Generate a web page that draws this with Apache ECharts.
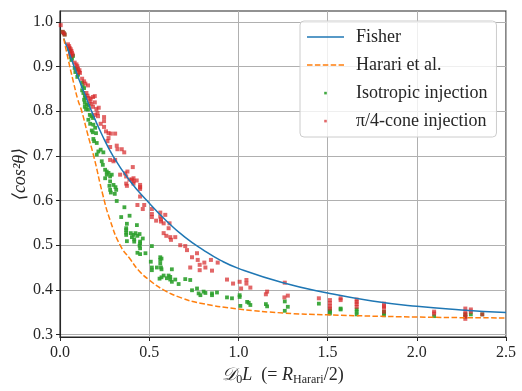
<!DOCTYPE html>
<html>
<head>
<meta charset="utf-8">
<script src="https://cdn.jsdelivr.net/npm/echarts@6/dist/echarts.min.js"></script>
<style>
  html, body { margin: 0; padding: 0; background: #fff; }
  #chart { width: 522px; height: 391px; }
</style>
</head>
<body>
<div id="chart"></div>
<script>
// curves
var fisherPts = [[0.021,0.963],[0.06,0.921],[0.10,0.878],[0.14,0.837],[0.175,0.802],[0.23,0.752],[0.30,0.698],
  [0.39,0.645],[0.487,0.600],[0.60,0.553],[0.70,0.518],[0.80,0.490],[0.90,0.466],[1.0,0.448],[1.25,0.416],
  [1.5,0.393],[1.75,0.375],[2.0,0.363],[2.25,0.355],[2.5,0.349]];
var harariPts = [[0.021,0.963],[0.045,0.918],[0.075,0.866],[0.10,0.826],[0.122,0.80],[0.155,0.749],[0.19,0.698],
  [0.24,0.613],[0.28,0.557],[0.337,0.50],[0.393,0.469],[0.44,0.444],[0.50,0.422],[0.58,0.40],[0.68,0.382],
  [0.787,0.370],[1.0,0.357],[1.255,0.348],[1.5,0.344],[2.0,0.339],[2.5,0.337]];

// isotropic injection (green)
var isoPts = [[0.015,0.978],[0.021,0.975],[0.026,0.972],
  [0.05,0.94],[0.056,0.934],[0.06,0.922],[0.064,0.915],[0.067,0.918],[0.073,0.924],
  [0.082,0.897],[0.086,0.888],[0.092,0.894],[0.097,0.877],[0.101,0.882],
  [0.124,0.864],[0.127,0.856],[0.135,0.852],[0.124,0.847],[0.131,0.841],[0.139,0.835],[0.142,0.830],
  [0.135,0.826],[0.139,0.819],[0.150,0.815],[0.161,0.813],
  [0.139,0.810],[0.146,0.805],[0.157,0.804],[0.167,0.792],[0.176,0.789],[0.185,0.785],
  [0.159,0.781],[0.169,0.772],[0.187,0.770],[0.197,0.763],[0.178,0.757],[0.184,0.753],[0.202,0.751],
  [0.187,0.738],[0.191,0.733],[0.206,0.729],[0.215,0.710],[0.228,0.714],[0.243,0.708],[0.206,0.703],
  [0.234,0.688],[0.240,0.680],[0.253,0.669],[0.262,0.665],[0.272,0.662],[0.262,0.658],[0.253,0.650],
  [0.281,0.654],[0.290,0.658],[0.281,0.643],[0.300,0.635],
  [0.277,0.633],[0.281,0.624],[0.285,0.618],[0.311,0.630],[0.315,0.624],[0.307,0.615],[0.318,0.599],
  [0.343,0.563],[0.361,0.585],[0.375,0.548],[0.371,0.538],[0.371,0.534],[0.371,0.528],[0.371,0.523],
  [0.375,0.509],[0.390,0.566],[0.397,0.527],[0.403,0.518],[0.412,0.523],[0.416,0.513],[0.416,0.508],
  [0.423,0.527],[0.434,0.521],[0.446,0.525],[0.449,0.508],[0.449,0.504],[0.446,0.499],[0.449,0.493],
  [0.434,0.483],[0.449,0.480],[0.464,0.515],[0.479,0.482],[0.431,0.545],[0.515,0.498],[0.509,0.463],
  [0.515,0.450],[0.515,0.444],[0.543,0.450],[0.562,0.473],[0.562,0.467],[0.569,0.470],[0.562,0.459],
  [0.566,0.450],[0.569,0.446],[0.558,0.425],[0.569,0.428],[0.581,0.432],[0.599,0.426],[0.609,0.432],
  [0.618,0.429],[0.627,0.446],[0.618,0.423],[0.627,0.418],[0.646,0.423],[0.665,0.413],[0.702,0.424],
  [0.730,0.422],[0.740,0.399],[0.768,0.403],[0.777,0.392],[0.787,0.388],[0.805,0.396],[0.815,0.393],
  [0.852,0.392],[0.852,0.388],[0.880,0.394],[0.936,0.383],[0.964,0.381],[1.007,0.388],[1.007,0.384],
  [1.011,0.364],[1.049,0.373],[1.058,0.371],[1.067,0.366],
  [1.154,0.368],[1.161,0.363],[1.260,0.374],[1.277,0.362],[1.260,0.353],[1.451,0.369],[1.513,0.354],
  [1.513,0.351],[1.513,0.347],[1.573,0.358],[1.573,0.356],[1.663,0.356],[1.663,0.351],[1.663,0.345],
  [1.816,0.351],[1.816,0.347],[1.816,0.343],[2.097,0.341],[2.272,0.345],[2.272,0.340],[2.303,0.345],[2.367,0.345]];

// pi/4-cone injection (red)
var conePts = [[0.004,0.993],[0.015,0.978],[0.021,0.975],[0.026,0.972],
  [0.045,0.950],[0.051,0.946],[0.054,0.942],[0.060,0.939],[0.064,0.935],[0.067,0.931],[0.056,0.929],
  [0.064,0.924],[0.071,0.927],[0.082,0.909],[0.092,0.905],[0.097,0.901],[0.101,0.895],[0.109,0.892],
  [0.112,0.886],[0.105,0.888],[0.124,0.873],[0.135,0.867],[0.142,0.862],[0.157,0.858],
  [0.148,0.841],[0.154,0.835],[0.161,0.830],[0.172,0.828],[0.185,0.832],[0.195,0.834],
  [0.167,0.822],[0.176,0.817],[0.195,0.820],[0.185,0.810],[0.204,0.805],[0.217,0.808],[0.210,0.796],
  [0.213,0.789],[0.247,0.787],[0.195,0.792],
  [0.247,0.778],[0.228,0.772],[0.247,0.765],[0.258,0.755],[0.272,0.751],[0.285,0.750],[0.309,0.750],
  [0.272,0.740],[0.266,0.733],[0.281,0.720],[0.318,0.723],[0.322,0.715],[0.346,0.715],[0.360,0.708],
  [0.281,0.691],[0.309,0.691],[0.300,0.688],[0.337,0.658],[0.365,0.661],[0.371,0.654],[0.378,0.665],
  [0.408,0.675],[0.389,0.647],[0.403,0.647],[0.412,0.650],[0.43,0.645],
  [0.371,0.638],[0.375,0.633],[0.412,0.643],[0.412,0.638],[0.449,0.635],[0.449,0.630],[0.449,0.626],
  [0.449,0.609],[0.434,0.590],[0.472,0.590],[0.464,0.581],[0.515,0.581],[0.515,0.570],[0.515,0.563],
  [0.539,0.555],[0.562,0.573],[0.562,0.564],[0.566,0.558],[0.566,0.553],[0.581,0.549],[0.590,0.568],
  [0.614,0.549],[0.609,0.538],[0.581,0.527],[0.596,0.521],[0.618,0.518],[0.622,0.512],[0.646,0.518],
  [0.674,0.500],[0.702,0.498],[0.712,0.489],[0.740,0.473],[0.730,0.450],[0.768,0.482],[0.772,0.467],
  [0.783,0.456],[0.783,0.444],[0.809,0.461],[0.815,0.450],[0.846,0.467],[0.852,0.443],[0.884,0.461],
  [0.936,0.423],[0.970,0.414],[1.007,0.418],[1.015,0.403],[1.045,0.422],[1.045,0.414],[1.067,0.405],
  [1.154,0.390],[1.161,0.396],[1.258,0.383],[1.277,0.387],[1.260,0.416],[1.451,0.381],[1.513,0.377],
  [1.513,0.370],[1.513,0.363],[1.513,0.358],[1.573,0.381],[1.573,0.377],[1.663,0.378],[1.663,0.373],
  [1.663,0.368],[1.663,0.362],[1.816,0.369],[1.816,0.363],[1.816,0.360],[1.816,0.351],[2.097,0.351],
  [2.097,0.347],[2.272,0.358],[2.272,0.351],[2.272,0.345],[2.272,0.340],[2.272,0.335],[2.303,0.356],
  [2.303,0.351],[2.367,0.345]];

var yTicks = [0.3, 0.4, 0.5, 0.6, 0.7, 0.8, 0.9, 1.0];
var seriesNames = ['Fisher', 'Harari et al.', 'Isotropic injection', 'π/4-cone injection'];

var serif = "'Liberation Serif', 'DejaVu Serif', serif";
var ink = '#262626';
// legend glyphs: box of 37x14, drawn small inside it
var dotIcon = 'path://M0,0M37,0M0,14M37,14M17.2,5.8L19.8,5.8L19.8,8.4L17.2,8.4Z';
var solidIcon = 'path://M0,0M37,0M0,14M37,14M0,6.25L37,6.25L37,7.75L0,7.75Z';
var dashIcon = 'path://M0,0M37,0M0,14M37,14' +
  'M0,6.25L5.5,6.25L5.5,7.75L0,7.75Z' +
  'M7.9,6.25L13.4,6.25L13.4,7.75L7.9,7.75Z' +
  'M15.8,6.25L21.3,6.25L21.3,7.75L15.8,7.75Z' +
  'M23.7,6.25L29.2,6.25L29.2,7.75L23.7,7.75Z' +
  'M31.6,6.25L37,6.25L37,7.75L31.6,7.75Z';

var chart = echarts.init(document.getElementById('chart'));
chart.setOption({
  animation: false,
  grid: { left: 60, right: 16, top: 11, bottom: 54, show: true, borderColor: ink, borderWidth: 1.1,
    outerBoundsMode: 'none' },
  legend: {
    orient: 'vertical',
    left: 300, top: 21,
    padding: [7, 9, 7, 7],
    itemWidth: 37, itemHeight: 14, itemGap: 10,
    backgroundColor: 'rgba(255,255,255,0.8)',
    borderColor: '#cccccc', borderWidth: 1, borderRadius: 4,
    textStyle: { fontFamily: serif, fontSize: 18, color: ink, padding: [0, 0, 0, 7] },
    data: [
      { name: seriesNames[0], icon: solidIcon },
      { name: seriesNames[1], icon: dashIcon },
      { name: seriesNames[2], icon: dotIcon },
      { name: seriesNames[3], icon: dotIcon }
    ]
  },
  xAxis: {
    type: 'value', min: 0, max: 2.5, interval: 0.5,
    name: '{c|𝒟}{sub|0}{i|L}  (= {i|R}{sub|Harari}/2)',
    nameLocation: 'middle', nameGap: 28, nameMoveOverlap: false,
    nameTextStyle: {
      fontFamily: serif, fontSize: 18, color: ink,
      rich: {
        c: { fontFamily: serif, fontSize: 18, fontStyle: 'italic', color: ink },
        i: { fontFamily: serif, fontSize: 18, fontStyle: 'italic', color: ink },
        sub: { fontFamily: serif, fontSize: 12, color: ink, padding: [9, 0, 0, 0] }
      }
    },
    axisLine: { show: true, onZero: false, lineStyle: { color: ink, width: 1.1 } },
    axisTick: { show: true, length: 4, lineStyle: { color: ink } },
    axisLabel: { fontFamily: serif, fontSize: 16, color: ink, margin: 8, formatter: function (v) { return v.toFixed(1); } },
    splitLine: { show: true, lineStyle: { color: '#b0b0b0', width: 1 } }
  },
  yAxis: {
    type: 'value', min: 0.2943, max: 1.0247,
    name: '⟨cos²θ⟩',
    nameLocation: 'middle', nameGap: 31, nameMoveOverlap: false,
    nameTextStyle: { fontFamily: serif, fontSize: 18, fontStyle: 'italic', color: ink },
    axisLine: { show: true, onZero: false, lineStyle: { color: ink, width: 1.1 } },
    axisTick: { show: true, length: 4, customValues: yTicks, lineStyle: { color: ink } },
    axisLabel: { fontFamily: serif, fontSize: 16, color: ink, margin: 7, customValues: yTicks,
      formatter: function (v) { return v.toFixed(1); } },
    splitLine: { show: true, lineStyle: { color: '#b0b0b0', width: 1 } }
  },
  series: [
    { name: seriesNames[0], type: 'line', data: fisherPts, symbol: 'none', smooth: 0.5,
      lineStyle: { color: '#1f77b4', width: 1.5 }, itemStyle: { color: '#1f77b4' } },
    { name: seriesNames[1], type: 'line', data: harariPts, symbol: 'none', smooth: 0.5,
      lineStyle: { color: '#ff7f0e', width: 1.5, type: [5.5, 2.4] }, itemStyle: { color: '#ff7f0e' } },
    { name: seriesNames[2], type: 'scatter', data: isoPts, symbol: 'rect', symbolSize: 3.8,
      itemStyle: { color: '#2ca02c', opacity: 0.9 } },
    { name: seriesNames[3], type: 'scatter', data: conePts, symbol: 'rect', symbolSize: 4,
      itemStyle: { color: '#d62728', opacity: 0.7 } }
  ]
});
</script>
</body>
</html>
